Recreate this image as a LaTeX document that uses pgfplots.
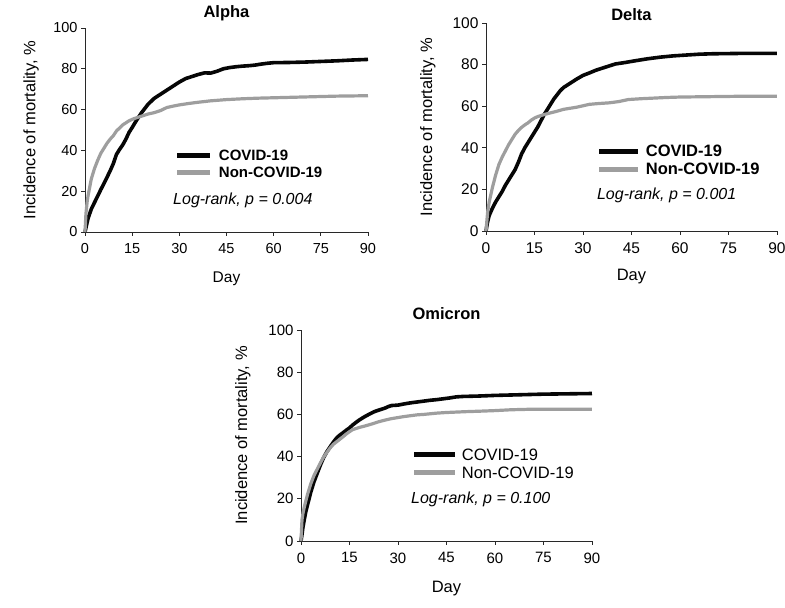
\documentclass[border=0pt]{standalone}
\usepackage{fontspec}
\setmainfont{Liberation Sans}
\usepackage{pgfplots}
\pgfplotsset{compat=1.18}

\definecolor{kmgrey}{RGB}{158,158,158}
\definecolor{kmblack}{RGB}{6,6,6}
\definecolor{axisgrey}{RGB}{40,40,40}

\pgfplotstableread{
day inc
0 0
0.5 3.5
1 6.8
2 11.2
3 14.4
4 17.5
5 20.7
6 23.7
7 26.8
8 30
9 33.5
10 38
11 40.5
12 42.7
13 45.5
14 48.8
15 51.2
16 53.8
17 56.2
18 58.5
19 60.5
20 62.5
21 64
22 65.5
24 67.5
26 69.5
28 71.5
30 73.5
32 75.2
34 76.2
36 77.2
38 78
40 77.9
42 78.8
44 80
46 80.6
48 81
50 81.3
52 81.5
54 81.8
56 82.3
58 82.7
60 83
65 83.1
70 83.3
75 83.6
80 83.9
85 84.3
90 84.6
}\alphacovid

\pgfplotstableread{
day inc
0 0
0.3 9
0.7 15
1 18
1.5 22
2 26
3 31
4 35
5 38.5
6 41
7 43.5
8 45.5
9 47.2
10 49.5
11 51
12 52.5
13 53.5
14 54.5
15 55.2
16 55.8
18 56.8
20 57.8
22 58.5
24 59.5
26 61
28 61.7
30 62.3
33 63
36 63.6
40 64.3
45 64.9
50 65.3
55 65.6
60 65.8
65 66
70 66.2
75 66.4
80 66.6
85 66.7
90 66.8
}\alphanon

\pgfplotstableread{
day inc
0 0
0.5 4.5
1 7.5
2 11
3 14
4 16.5
5 19
6 22
7 24.5
8 27
9 29.5
10 33
11 37
12 40
13 42.5
14 45
15 47.5
16 50
17 53
18 56
19 58.5
20 61
21 63.5
22 65.5
23 67.5
24 69
26 71
28 73
30 74.8
32 76
34 77.3
36 78.3
38 79.3
40 80.3
43 81
46 81.8
50 82.8
54 83.6
58 84.2
62 84.6
66 85
70 85.2
75 85.3
80 85.4
85 85.4
90 85.4
}\deltacovid

\pgfplotstableread{
day inc
0 0
0.5 9
1 14
2 21
3 27
4 32
5 35.5
6 38.5
7 41.5
8 44
9 46.5
10 48.3
11 49.8
12 51
13 52
14 53.3
15 54.3
16 55
18 56
20 56.8
22 57.6
24 58.5
26 59
28 59.5
30 60.2
32 60.9
35 61.3
38 61.6
41 62.2
44 63.2
48 63.6
52 63.9
56 64.2
60 64.4
65 64.5
70 64.6
75 64.7
80 64.8
85 64.8
90 64.8
}\deltanon

\pgfplotstableread{
day inc
0 0
0.3 3
0.6 6.5
1 10
1.5 14
2 17
3 23
4 28
5 32
6 36
7 39.5
8 42.3
9 44.6
10 46.8
11 48.8
12 50.2
13 51.3
14 52.5
15 53.6
16 55
17 56.2
18 57.3
19 58.3
20 59.2
21 60
22 60.8
23 61.5
24 62
25 62.5
26 63
27 63.7
28 64.2
30 64.4
32 65
34 65.5
36 65.9
38 66.3
40 66.7
42 67
44 67.4
46 67.8
48 68.3
50 68.5
55 68.7
60 69
65 69.2
70 69.4
75 69.6
80 69.7
85 69.8
90 69.9
}\omicroncovid

\pgfplotstableread{
day inc
0 0
0.3 10
0.6 13
1 16
1.5 19
2 22
3 27
4 31
5 34
6 37
7 39.8
8 42
9 44.1
10 45.8
11 47
12 48.2
13 49.4
14 50.7
15 51.8
16 52.8
18 53.8
20 54.6
22 55.5
24 56.5
26 57.3
28 58
30 58.5
32 59
34 59.4
36 59.8
38 60
40 60.3
42 60.6
45 60.9
48 61.1
51 61.3
55 61.5
60 61.8
65 62.2
70 62.4
75 62.4
80 62.4
85 62.4
90 62.4
}\omicronnon

\pgfplotsset{
  every axis title/.style={at={(0.5,1)}, anchor=center},
  kmaxis/.style={
    scale only axis,
    anchor=south west,
    xmin=0, xmax=90, ymin=0, ymax=100,
    axis lines=left,
    axis line style={-, line width=0.8pt, axisgrey},
    every inner x axis line/.append style={-},
    every inner y axis line/.append style={-},
    every outer x axis line/.append style={-},
    every outer y axis line/.append style={-},
    xtick={0,15,...,90},
    ytick={0,20,...,100},
    tick align=outside,
    major tick length=4pt,
    tick style={line width=0.8pt, axisgrey},
    /pgf/number format/assume math mode=true,
    xticklabel style={yshift=-4pt},
    label style={font=\fontsize{16.5}{19}\selectfont},
    title style={font=\bfseries\fontsize{16.5}{19}\selectfont},
    xlabel={Day},
    ylabel={Incidence of mortality, \%},
    clip=false,
    legend cell align=left,
  },
  covid/.style={kmblack, line width=3.6pt, line join=round},
  noncovid/.style={kmgrey, line width=3.2pt, line join=round},
}

\begin{document}
\begin{tikzpicture}
\path[use as bounding box] (0pt,0pt) rectangle (785pt,608pt);

% Alpha
\begin{axis}[kmaxis,
  at={(85pt,376pt)}, width=283pt, height=204pt,
  title={Alpha},
  title style={at={(axis description cs:0.5,1.073)}},
  tick label style={font=\fontsize{14.5}{17}\selectfont},
  xlabel style={at={(axis description cs:0.5,-0.23)}, anchor=center,
    font=\fontsize{15.5}{18}\selectfont},
  ylabel style={at={(axis description cs:-0.19,0.5)}, anchor=center},
  legend style={at={(axis description cs:0.318,0.331)}, anchor=west,
    draw=none, fill=none, inner sep=0pt, outer sep=0pt,
    font=\bfseries\fontsize{15}{18}\selectfont,
    row sep=5pt, column sep=6pt,
    nodes={inner sep=0pt, text height=11pt, text depth=1pt}},
  legend image code/.code={\draw[#1, line width=5pt] (0pt,0pt) -- (33pt,0pt);},
]
\addplot[covid] table[x=day, y=inc] {\alphacovid};
\addlegendentry{COVID-19}
\addplot[noncovid] table[x=day, y=inc] {\alphanon};
\addlegendentry{Non-COVID-19}
\node[anchor=west, font=\itshape\fontsize{16}{19}\selectfont, inner sep=0pt]
  at (axis description cs:0.311,0.157) {Log-rank, p = 0.004};
\end{axis}

% Delta
\begin{axis}[kmaxis,
  at={(486pt,377pt)}, width=291pt, height=208pt,
  title={Delta},
  title style={at={(axis description cs:0.5,1.042)}},
  tick label style={font=\fontsize{15.5}{18}\selectfont},
  xlabel style={at={(axis description cs:0.5,-0.221)}, anchor=center},
  ylabel style={at={(axis description cs:-0.2,0.5)}, anchor=center},
  legend style={at={(axis description cs:0.381,0.339)}, anchor=west,
    draw=none, fill=none, inner sep=0pt, outer sep=0pt,
    font=\bfseries\fontsize{16.5}{19}\selectfont,
    row sep=5pt, column sep=5pt,
    nodes={inner sep=0pt, text height=12pt, text depth=1pt}},
  legend image code/.code={\draw[#1, line width=5pt] (0pt,0pt) -- (39pt,0pt);},
]
\addplot[covid] table[x=day, y=inc] {\deltacovid};
\addlegendentry{COVID-19}
\addplot[noncovid] table[x=day, y=inc] {\deltanon};
\addlegendentry{Non-COVID-19}
\node[anchor=west, font=\itshape\fontsize{16}{19}\selectfont, inner sep=0pt]
  at (axis description cs:0.381,0.173) {Log-rank, p = 0.001};
\end{axis}

% Omicron
\begin{axis}[kmaxis,
  at={(301pt,67pt)}, width=291pt, height=211pt,
  title={Omicron},
  title style={at={(axis description cs:0.5,1.08)}},
  tick label style={font=\fontsize{15}{18}\selectfont},
  xlabel style={at={(axis description cs:0.5,-0.223)}, anchor=center},
  ylabel style={at={(axis description cs:-0.2,0.5)}, anchor=center},
  legend style={at={(axis description cs:0.381,0.365)}, anchor=west,
    draw=none, fill=none, inner sep=0pt, outer sep=0pt,
    font=\fontsize{16.5}{19}\selectfont,
    row sep=5pt, column sep=4pt,
    nodes={inner sep=0pt, text height=12pt, text depth=1pt}},
  legend image code/.code={\draw[#1, line width=5pt] (0pt,0pt) -- (41pt,0pt);},
]
\addplot[covid] table[x=day, y=inc] {\omicroncovid};
\addlegendentry{COVID-19}
\addplot[noncovid] table[x=day, y=inc] {\omicronnon};
\addlegendentry{Non-COVID-19}
\node[anchor=west, font=\itshape\fontsize{16}{19}\selectfont, inner sep=0pt]
  at (axis description cs:0.378,0.199) {Log-rank, p = 0.100};
\end{axis}
\end{tikzpicture}
\end{document}
